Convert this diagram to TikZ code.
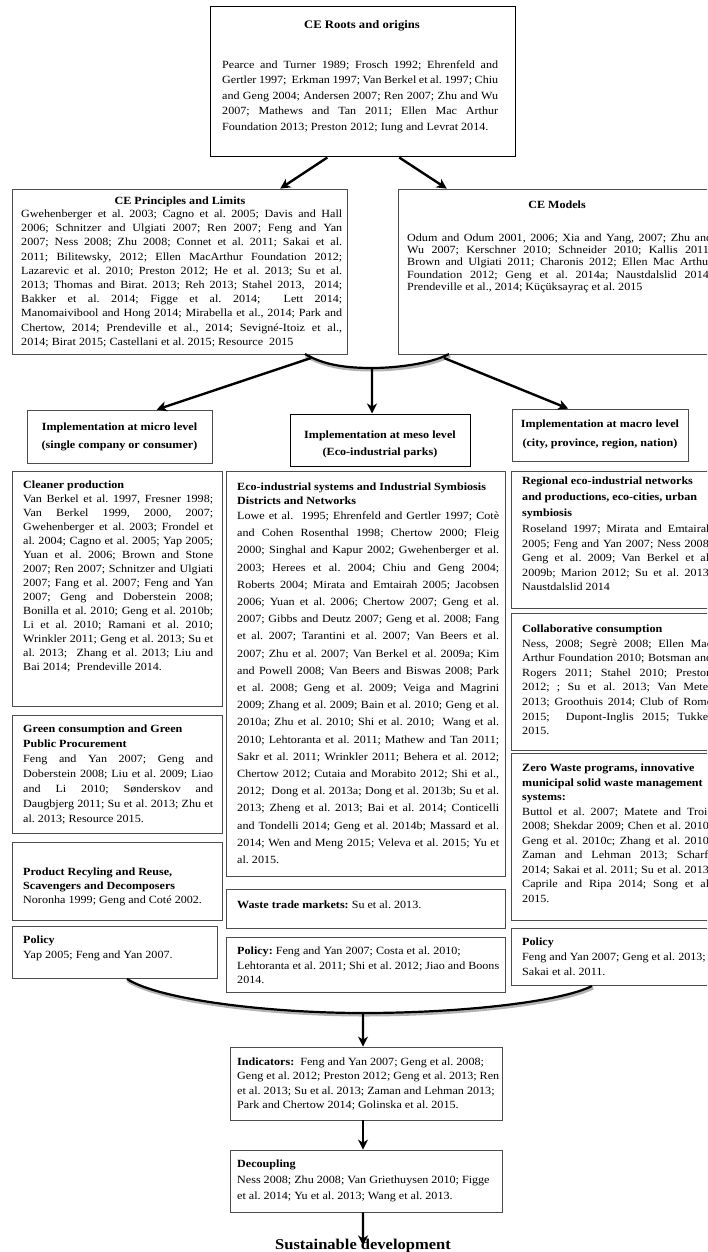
\documentclass[tikz,border=0pt]{standalone}
\usepackage{fontspec}
\setmainfont{Liberation Serif}[FakeStretch=1.1]
\usetikzlibrary{arrows.meta,fit,calc}
\frenchspacing
\hbadness=10000 \hfuzz=100pt \vbadness=10000
\newcommand\jl[1]{\hbox to \hsize{#1}}
\newcommand\lastl[1]{\hbox to \hsize{#1\hfil}}
\newcommand\ttl[1]{\hbox to \hsize{\bfseries #1\hfil}}
\newcommand\ctl[1]{\hbox to \hsize{\hfil\bfseries #1\hfil}}
\newcommand\blk[3]{\vtop{\hsize=#1pt\baselineskip=#2pt\lineskiplimit=-100pt\lineskip=0pt\relax #3}}
\begin{document}
\begin{tikzpicture}[x=1pt,y=-1pt,
  box/.style={draw=black!70, line width=0.8pt, inner sep=0pt},
  bbox/.style={draw=black, line width=1pt, inner sep=0pt},
  txt/.style={anchor=base west, inner sep=0pt, font=\fontsize{11}{13}\selectfont},
  ctxt/.style={anchor=base, inner sep=0pt, font=\bfseries\fontsize{11}{13}\selectfont},
  arr/.style={line width=2.4pt, -{Stealth[length=10pt,width=10pt,inset=3pt]}},
  bracesh/.style={line width=4pt, black!30},
  bracel/.style={line width=2.2pt}]
\useasboundingbox (0,0) rectangle (707,1252);
\clip (0,0) rectangle (707,1252);

% ---------- boxes ----------
\node[bbox, fit={(210,7) (515,157)}] (roots) {};
\node[box, fit={(12,189) (347,354)}] (princ) {};
\node[box, fit={(398,189) (725,354)}] (models) {};
\node[box, fit={(27,410) (212,463)}] (micro) {};
\node[bbox, fit={(290,414) (470,466)}] (meso) {};
\node[box, fit={(512,409) (688,461)}] (macro) {};
\node[box, fit={(12,471) (222,706)}] (cleaner) {};
\node[box, fit={(12,715) (222,833)}] (green) {};
\node[box, fit={(12,842) (222,920)}] (recyc) {};
\node[box, fit={(12,926) (217,978)}] (polL) {};
\node[box, fit={(226,471) (505,876)}] (eco) {};
\node[box, fit={(226,889) (505,928)}] (waste) {};
\node[box, fit={(226,937) (505,992)}] (polM) {};
\node[box, fit={(511,471) (725,608)}] (regional) {};
\node[box, fit={(511,613) (725,750)}] (collab) {};
\node[box, fit={(511,753) (725,920)}] (zero) {};
\node[box, fit={(511,928) (725,985)}] (polR) {};
\node[box, fit={(230,1047) (502,1120)}] (ind) {};
\node[box, fit={(230,1150) (502,1212)}] (dec) {};

% ---------- texts ----------
\node[ctxt, font=\bfseries\fontsize{11.5}{13}\selectfont] (rootsT) at (362,28.5) {CE Roots and origins};
\node[txt] (rootsX) at (222,68.5) {\blk{276}{15.5}{%
\jl{Pearce and Turner 1989; Frosch 1992; Ehrenfeld and}
\jl{Gertler 1997;\ \ Erkman 1997; Van Berkel et al. 1997; Chiu}
\jl{and Geng 2004; Andersen 2007; Ren 2007; Zhu and Wu}
\jl{2007; Mathews and Tan 2011; Ellen Mac Arthur}
\lastl{Foundation 2013; Preston 2012; Iung and Levrat 2014.}}};

\node[ctxt] (princT) at (180,204.5) {CE Principles and Limits};
\node[txt] (princX) at (21,217.5) {\blk{321}{14.2}{%
\jl{Gwehenberger et al. 2003; Cagno et al. 2005; Davis and Hall}
\jl{2006; Schnitzer and Ulgiati 2007; Ren 2007; Feng and Yan}
\jl{2007; Ness 2008; Zhu 2008; Connet et al. 2011; Sakai et al.}
\jl{2011; Bilitewsky, 2012; Ellen MacArthur Foundation 2012;}
\jl{Lazarevic et al. 2010; Preston 2012; He et al. 2013; Su et al.}
\jl{2013; Thomas and Birat. 2013; Reh 2013; Stahel 2013,\ \ 2014;}
\jl{Bakker et al. 2014; Figge et al. 2014;\ \ Lett 2014;}
\jl{Manomaivibool and Hong 2014; Mirabella et al., 2014; Park and}
\jl{Chertow, 2014; Prendeville et al., 2014; Sevigné-Itoiz et al.,}
\lastl{2014; Birat 2015; Castellani et al. 2015; Resource\ \ 2015}}};

\node[ctxt] (modelsT) at (557,208.5) {CE Models};
\node[txt] (modelsX) at (407,241.5) {\blk{305}{12.2}{%
\jl{Odum and Odum 2001, 2006; Xia and Yang, 2007; Zhu and}
\jl{Wu 2007; Kerschner 2010; Schneider 2010; Kallis 2011;}
\jl{Brown and Ulgiati 2011; Charonis 2012; Ellen Mac Arthur}
\jl{Foundation 2012; Geng et al. 2014a; Naustdalslid 2014;}
\lastl{Prendeville et al., 2014; Küçüksayraç et al. 2015}}};

\node[ctxt] (microT) at (119.5,430.5) {\blk{185}{18}{%
\ctl{Implementation at micro level}
\ctl{(single company or consumer)}}};
\node[ctxt] (mesoT) at (380,438.5) {\blk{180}{17}{%
\ctl{Implementation at meso level}
\ctl{(Eco-industrial parks)}}};
\node[ctxt] (macroT) at (600,427.5) {\blk{176}{19}{%
\ctl{Implementation at macro level}
\ctl{(city, province, region, nation)}}};

\node[txt] (cleanerX) at (23,488.5) {\blk{190}{14}{%
\ttl{Cleaner production}
\jl{Van Berkel et al. 1997, Fresner 1998;}
\jl{Van Berkel 1999, 2000, 2007;}
\jl{Gwehenberger et al. 2003; Frondel et}
\jl{al. 2004; Cagno et al. 2005; Yap 2005;}
\jl{Yuan et al. 2006; Brown and Stone}
\jl{2007; Ren 2007; Schnitzer and Ulgiati}
\jl{2007; Fang et al. 2007; Feng and Yan}
\jl{2007; Geng and Doberstein 2008;}
\jl{Bonilla et al. 2010; Geng et al. 2010b;}
\jl{Li et al. 2010; Ramani et al. 2010;}
\jl{Wrinkler 2011; Geng et al. 2013; Su et}
\jl{al. 2013;\ \ Zhang et al. 2013; Liu and}
\lastl{Bai 2014;\ \ Prendeville 2014.}}};

\node[txt] (greenX) at (23,732.5) {\blk{190}{15}{%
\ttl{Green consumption and Green}
\ttl{Public Procurement}
\jl{Feng and Yan 2007; Geng and}
\jl{Doberstein 2008; Liu et al. 2009; Liao}
\jl{and Li 2010; Sønderskov and}
\jl{Daugbjerg 2011; Su et al. 2013; Zhu et}
\lastl{al. 2013; Resource 2015.}}};

\node[txt] (recycX) at (23,875.5) {\blk{190}{14}{%
\ttl{Product Recyling and Reuse,}
\ttl{Scavengers and Decomposers}
\lastl{Noronha 1999; Geng and Coté 2002.}}};

\node[txt] (polLX) at (23,943.5) {\blk{190}{15}{%
\ttl{Policy}
\lastl{Yap 2005; Feng and Yan 2007.}}};

\node[txt] (ecoT) at (237,490.5) {\blk{262}{14}{%
\ttl{Eco-industrial systems and Industrial Symbiosis}
\ttl{Districts and Networks}}};
\node[txt] (ecoX) at (237,519.5) {\blk{262}{17.2}{%
\jl{Lowe et al.\ \ 1995; Ehrenfeld and Gertler 1997; Cotè}
\jl{and Cohen Rosenthal 1998; Chertow 2000; Fleig}
\jl{2000; Singhal and Kapur 2002; Gwehenberger et al.}
\jl{2003; Herees et al. 2004; Chiu and Geng 2004;}
\jl{Roberts 2004; Mirata and Emtairah 2005; Jacobsen}
\jl{2006; Yuan et al. 2006; Chertow 2007; Geng et al.}
\jl{2007; Gibbs and Deutz 2007; Geng et al. 2008; Fang}
\jl{et al. 2007; Tarantini et al. 2007; Van Beers et al.}
\jl{2007; Zhu et al. 2007; Van Berkel et al. 2009a; Kim}
\jl{and Powell 2008; Van Beers and Biswas 2008; Park}
\jl{et al. 2008; Geng et al. 2009; Veiga and Magrini}
\jl{2009; Zhang et al. 2009; Bain et al. 2010; Geng et al.}
\jl{2010a; Zhu et al. 2010; Shi et al. 2010;\ \ Wang et al.}
\jl{2010; Lehtoranta et al. 2011; Mathew and Tan 2011;}
\jl{Sakr et al. 2011; Wrinkler 2011; Behera et al. 2012;}
\jl{Chertow 2012; Cutaia and Morabito 2012; Shi et al.,}
\jl{2012;\ \ Dong et al. 2013a; Dong et al. 2013b; Su et al.}
\jl{2013; Zheng et al. 2013; Bai et al. 2014; Conticelli}
\jl{and Tondelli 2014; Geng et al. 2014b; Massard et al.}
\jl{2014; Wen and Meng 2015; Veleva et al. 2015; Yu et}
\lastl{al. 2015.}}};

\node[txt] (wasteX) at (237,908.5) {\blk{262}{14}{%
\lastl{\textbf{Waste trade markets:} Su et al. 2013.}}};

\node[txt] (polMX) at (237,954.5) {\blk{262}{14.5}{%
\lastl{\textbf{Policy:} Feng and Yan 2007; Costa et al. 2010;}
\lastl{Lehtoranta et al. 2011; Shi et al. 2012; Jiao and Boons}
\lastl{2014.}}};

\node[txt] (regionalX) at (522,484.5) {\blk{190}{16}{%
\ttl{Regional eco-industrial networks}
\ttl{and productions, eco-cities, urban}
\ttl{symbiosis}}};
\node[txt] (regionalY) at (522,532.5) {\blk{190}{14.6}{%
\jl{Roseland 1997; Mirata and Emtairah}
\jl{2005; Feng and Yan 2007; Ness 2008;}
\jl{Geng et al. 2009; Van Berkel et al.}
\jl{2009b; Marion 2012; Su et al. 2013;}
\lastl{Naustdalslid 2014}}};

\node[txt] (collabX) at (522,632.5) {\blk{190}{14.6}{%
\ttl{Collaborative consumption}
\jl{Ness, 2008; Segrè 2008; Ellen Mac}
\jl{Arthur Foundation 2010; Botsman and}
\jl{Rogers 2011; Stahel 2010; Preston}
\jl{2012; ; Su et al. 2013; Van Meter}
\jl{2013; Groothuis 2014; Club of Rome}
\jl{2015;\ \ Dupont-Inglis 2015; Tukker}
\lastl{2015.}}};

\node[txt] (zeroX) at (522,771.5) {\blk{190}{14.5}{%
\ttl{Zero Waste programs, innovative}
\ttl{municipal solid waste management}
\ttl{systems:}
\jl{Buttol et al. 2007; Matete and Trois}
\jl{2008; Shekdar 2009; Chen et al. 2010;}
\jl{Geng et al. 2010c; Zhang et al. 2010;}
\jl{Zaman and Lehman 2013; Scharff}
\jl{2014; Sakai et al. 2011; Su et al. 2013;}
\jl{Caprile and Ripa 2014; Song et al.}
\lastl{2015.}}};

\node[txt] (polRX) at (522,945.5) {\blk{190}{15}{%
\ttl{Policy}
\lastl{Feng and Yan 2007; Geng et al. 2013;}
\lastl{Sakai et al. 2011.}}};

\node[txt] (indX) at (237,1065.5) {\blk{262}{14.4}{%
\lastl{\textbf{Indicators:}\ \ Feng and Yan 2007; Geng et al. 2008;}
\lastl{Geng et al. 2012; Preston 2012; Geng et al. 2013; Ren}
\lastl{et al. 2013; Su et al. 2013; Zaman and Lehman 2013;}
\lastl{Park and Chertow 2014; Golinska et al. 2015.}}};

\node[txt] (decX) at (237,1167.5) {\blk{262}{16}{%
\ttl{Decoupling}
\lastl{Ness 2008; Zhu 2008; Van Griethuysen 2010; Figge}
\lastl{et al. 2014; Yu et al. 2013; Wang et al. 2013.}}};

\node[anchor=base, inner sep=0pt, font=\bfseries\fontsize{15}{17}\selectfont] (sd) at (363,1249) {Sustainable development};

% ---------- connectors ----------
\draw[arr] ($(roots.south west)!0.385!(roots.south east)$) -- ($(princ.north west)!0.8!(princ.north east)$);
\draw[arr] ($(roots.south west)!0.62!(roots.south east)$) -- ($(models.north west)!0.15!(models.north east)$);

\coordinate (ubL) at (305,354);
\coordinate (ubC) at (372,368);
\coordinate (ubR) at (449,354);
\coordinate (ubLa) at (311,358);
\coordinate (ubRa) at (444,358);
\draw[bracesh, transform canvas={shift={(1pt,-1.5pt)}}] (ubL) .. controls (325,366) and (350,368) .. (ubC) .. controls (395,368) and (430,364) .. (ubR);
\draw[bracel] (ubL) .. controls (325,366) and (350,368) .. (ubC) .. controls (395,368) and (430,364) .. (ubR);
\draw[arr] (ubLa) -- ($(micro.north west)!0.70!(micro.north east)$);
\draw[arr] (ubC) -- ($(meso.north west)!0.456!(meso.north east)$);
\draw[arr] (ubRa) -- ($(macro.north west)!0.32!(macro.north east)$);

\coordinate (lbL) at (127,979);
\coordinate (lbC) at (363,1013);
\coordinate (lbR) at (592,986);
\draw[bracesh, transform canvas={shift={(1pt,-1.5pt)}}] (lbL) .. controls (160,1000) and (270,1013) .. (lbC) .. controls (460,1013) and (560,1002) .. (lbR);
\draw[bracel] (lbL) .. controls (160,1000) and (270,1013) .. (lbC) .. controls (460,1013) and (560,1002) .. (lbR);
\draw[arr] (lbC) -- ($(ind.north west)!0.489!(ind.north east)$);
\draw[arr] ($(ind.south west)!0.489!(ind.south east)$) -- ($(dec.north west)!0.489!(dec.north east)$);
\draw[arr] ($(dec.south west)!0.489!(dec.south east)$) -- ($(sd.north)+(0,7)$);
\end{tikzpicture}
\end{document}
